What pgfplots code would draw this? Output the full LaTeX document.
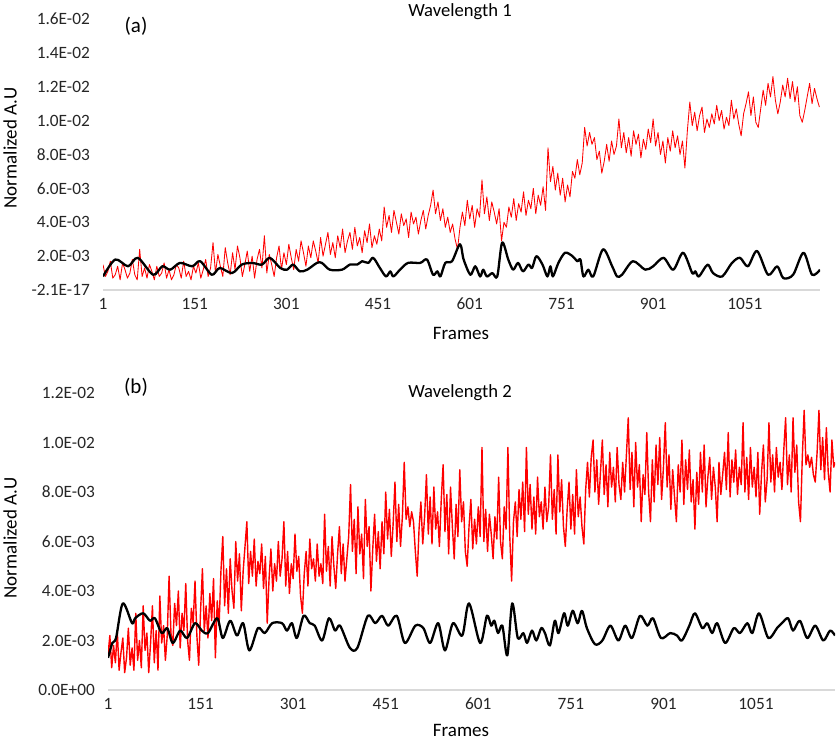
\documentclass[border=0pt]{standalone}
\usepackage{pgfplots}
\pgfplotsset{compat=1.18}
\usepackage{fontspec}
\setmainfont{Carlito}
\begin{document}
\begin{tikzpicture}
\path[use as bounding box] (0pt,0pt) rectangle (840pt,740pt);
\pgfplotsset{
 panel/.style={
  scale only axis,
  axis x line*=bottom, axis y line*=left,
  x axis line style={draw=black!15, line width=1.2pt, -},
  y axis line style={draw=none},
  major tick length=0pt,
  tick style={draw=none},
  xmin=1,
  xtick={1,151,301,451,601,751,901,1051},
  xticklabels={1,151,301,451,601,751,901,1051},
  ticklabel style={font=\fontsize{17.3}{20}\selectfont, text=black!85},
  xticklabel style={inner sep=0pt, anchor=north, yshift=-8pt},
  yticklabel style={inner sep=0pt, anchor=east, xshift=-13pt},
 },
 redtop/.style={color=red, line width=0.85pt, line join=round},
 redbot/.style={color=red, line width=1.4pt, line join=round},
 blk/.style={color=black, line width=2.3pt, smooth, line join=round},
}
% ---------------- Panel (a)
\begin{axis}[panel, at={(103pt,450pt)}, anchor=south west, width=717pt, height=271pt,
  xmax=1174, ymin=0, ymax=16,
  ytick={0,2,4,6,8,10,12,14,16},
  yticklabels={-2.1E-17,2.0E-03,4.0E-03,6.0E-03,8.0E-03,1.0E-02,1.2E-02,1.4E-02,1.6E-02}]
\addplot[redtop] coordinates {
(1,1.5)(5,0.8)(9,1.1)(13,1.7)(17,0.7)(21,0.9)(25,1.4)(29,0.6)(33,1.6)(37,1.2)(41,0.7)(45,1.0)(49,1.8)(53,0.9)(57,0.6)(61,2.4)(65,0.8)(69,1.3)(73,0.7)(77,1.5)(81,1.1)(85,0.6)(89,1.4)(93,0.8)(97,1.0)(101,1.6)(105,0.7)(109,1.2)(113,0.6)(117,0.9)(121,1.5)(125,1.3)(129,0.7)(133,1.7)(137,0.8)(141,1.1)(145,0.6)(149,1.4)(153,1.0)(157,1.6)(161,0.7)(165,1.2)(169,1.8)(173,0.8)(177,1.3)
(181,2.8)(185,1.0)(189,2.1)(193,1.4)(197,0.8)(201,2.5)(205,1.6)(209,0.9)(213,2.2)(217,1.2)(221,2.6)(225,1.9)(229,0.8)(233,1.5)(237,2.3)(241,1.1)(245,2.0)(249,0.7)(253,1.8)(257,2.4)(261,1.3)(265,3.2)(269,1.0)(273,2.1)(277,1.5)(281,0.8)(285,1.9)(289,2.6)(293,1.2)(297,2.2)
(301,1.5)(305,2.7)(309,1.9)(313,1.2)(317,2.4)(321,1.7)(325,2.9)(329,2.2)(333,1.4)(337,2.6)(341,1.9)(345,2.9)(349,2.3)(353,1.6)(357,3.1)(361,2.0)(365,2.7)(369,3.4)(373,2.1)(377,2.8)(381,1.9)(385,3.2)(389,2.5)(393,3.6)(397,2.2)(401,2.9)(405,3.4)(409,2.4)(413,3.7)(417,2.6)(421,3.1)(425,2.2)(429,3.5)(433,2.8)(437,3.9)(441,2.5)(445,3.2)(449,2.7)(453,3.6)(457,2.9)
(461,4.9)(465,3.7)(469,4.4)(473,3.4)(477,4.7)(481,4.0)(485,3.3)(489,4.5)(493,3.8)(497,4.2)(501,3.1)(505,4.6)(509,3.9)(513,4.3)(517,3.3)(521,4.1)(525,4.7)(529,3.6)(533,4.4)(537,5.0)
(541,5.9)(545,4.5)(549,5.2)(553,4.1)(557,4.8)(561,3.7)(565,4.3)(569,3.4)(573,3.9)(577,3.0)(581,2.4)
(585,3.7)(589,4.6)(593,3.8)(597,5.3)(601,4.2)(605,5.0)(609,3.7)(613,4.8)(617,4.3)(621,6.5)(625,4.5)(629,5.5)(633,4.1)(637,5.2)(641,4.6)(645,3.9)(649,4.8)(653,2.9)
(657,4.0)(661,3.7)(665,4.9)(669,4.3)(673,5.4)(677,4.1)(681,5.1)(685,4.6)(689,5.8)(693,4.4)(697,5.3)(701,4.8)(705,6.0)(709,4.5)(713,5.6)(717,5.0)(721,6.1)(725,4.7)
(729,8.4)(733,6.4)(737,7.3)(741,5.9)(745,6.9)(749,5.6)(753,6.6)(757,5.2)(761,6.2)(765,5.5)
(769,7.0)(773,6.6)(777,7.7)(781,6.8)(785,7.5)(789,9.6)(793,8.5)(797,9.3)(801,8.6)(805,9.0)
(809,7.7)(813,8.2)(817,6.9)(821,7.6)(825,8.6)(829,7.6)(833,8.8)(837,8.0)(841,8.5)
(845,10.1)(849,8.4)(853,9.3)(857,8.1)(861,9.0)(865,7.9)(869,9.4)(873,8.6)(877,9.2)(881,7.8)(885,8.9)(889,8.3)(893,9.5)(897,8.7)(901,10.1)(905,8.5)(909,9.3)(913,8.0)(917,8.8)(921,7.5)(925,9.0)(929,8.2)(933,9.4)(937,8.4)(941,9.1)(945,8.0)(949,8.8)
(953,7.2)(957,9.4)(961,11.1)(965,9.7)(969,10.5)(973,9.4)(977,10.3)(981,10.8)(985,9.3)(989,10.1)(993,9.6)(997,10.4)(1001,9.8)(1005,10.9)(1009,10.0)(1013,10.6)(1017,9.5)(1021,10.2)(1025,9.7)(1029,11.2)(1033,10.1)(1037,10.7)(1041,9.8)(1045,9.1)(1049,10.4)(1053,11.0)
(1057,11.7)(1061,10.3)(1065,11.4)(1069,9.9)(1073,9.6)(1077,10.7)(1081,11.8)(1085,10.9)(1089,12.2)(1093,11.4)(1097,12.6)(1101,11.2)(1105,10.4)(1109,11.1)
(1113,12.1)(1117,11.4)(1121,12.5)(1125,11.3)(1129,12.3)(1133,11.1)(1137,12.0)(1141,10.3)(1145,9.9)(1149,10.6)(1153,11.4)(1157,12.2)(1161,11.0)(1165,11.9)(1169,11.3)(1173,10.8)
};
\addplot[blk] coordinates {
(1,0.8)(21,1.8)(42,1.4)(58,1.9)(83,0.9)(98,1.4)(111,1.2)(127,1.6)(147,1.4)(160,1.7)(179,0.9)(192,1.3)(212,1.0)(228,1.5)(245,1.6)(261,1.5)(274,1.9)(291,1.3)(302,1.2)(312,1.5)(323,1.1)(335,1.2)(351,1.6)(359,1.6)(372,1.2)(392,1.2)(405,1.5)(417,1.5)(425,1.7)(435,1.6)(443,1.9)(454,1.3)(464,0.8)(471,1.1)(476,0.8)(487,1.2)(500,1.6)(520,1.6)(531,1.8)(541,0.9)(548,1.1)(553,0.8)(561,1.6)(572,1.7)(585,2.7)(591,1.8)(602,0.9)(610,1.4)(618,0.8)(623,1.2)(629,0.8)(638,1.0)(646,0.8)(654,2.8)(664,1.8)(672,1.2)(680,1.6)(688,1.1)(697,1.5)(703,1.3)(710,2.0)(720,1.5)(728,0.8)(733,1.4)(737,0.8)(746,1.6)(757,2.2)(769,2.0)(777,1.7)(782,1.8)(787,0.8)(795,1.2)(803,0.8)(819,2.4)(834,1.4)(842,0.8)(850,0.9)(868,1.7)(888,1.2)(901,1.4)(918,1.9)(934,1.2)(950,2.2)(965,1.0)(970,1.1)(976,0.8)(990,1.5)(999,1.0)(1014,0.8)(1030,1.6)(1043,1.9)(1056,1.4)(1071,2.3)(1089,0.9)(1104,1.4)(1114,0.7)(1130,0.9)(1147,2.2)(1161,0.9)(1174,1.2)
};
\end{axis}
% ---------------- Panel (b)
\begin{axis}[panel, at={(108pt,50pt)}, anchor=south west, width=727pt, height=297pt,
  xmax=1179, ymin=0, ymax=12,
  ytick={0,2,4,6,8,10,12},
  yticklabels={0.0E+00,2.0E-03,4.0E-03,6.0E-03,8.0E-03,1.0E-02,1.2E-02}]
\addplot[redbot] coordinates {
(1,1.4)(4,2.2)(7,0.9)(10,1.8)(13,1.1)(16,2.4)(19,0.8)(22,1.5)(25,2.1)(28,0.7)(31,1.3)(34,2.5)(37,1.0)(40,1.7)(43,0.8)(46,3.1)(49,1.2)(52,2.0)(55,0.9)(58,3.4)(61,1.6)(64,2.3)(67,0.7)(70,1.9)(73,3.4)(76,1.1)(79,2.4)(82,0.8)(85,3.8)(88,1.9)(91,2.6)(94,1.2)(97,2.2)
(100,4.6)(103,2.3)(106,1.8)(109,3.5)(112,2.6)(115,4.0)(118,1.7)(121,3.1)(124,2.4)(127,4.3)(130,2.0)(133,1.2)(136,3.3)(139,2.7)(142,4.4)(145,2.2)(148,1.0)(151,3.2)(154,4.9)(157,2.4)(160,3.4)(163,2.1)(166,3.9)(169,2.8)(172,4.5)(175,1.3)(178,3.6)(181,2.6)(184,4.8)(187,6.2)(190,3.4)(193,4.9)(196,3.1)(199,5.3)(202,4.0)(205,3.3)(208,6.0)(211,4.4)(214,5.5)(217,3.2)(220,4.8)(223,5.8)(226,6.8)(229,4.3)(232,5.6)(235,4.6)(238,6.1)(241,4.2)(244,5.2)(247,4.7)(250,5.9)(253,4.1)(256,5.4)(259,2.7)(262,4.5)(265,5.7)(268,4.0)(271,5.1)(274,4.4)(277,6.0)(280,4.6)(283,5.3)(286,6.8)
(289,4.2)(292,5.6)(295,3.9)(298,5.1)(301,4.5)(304,6.3)(307,4.8)(310,5.4)(313,3.8)(316,3.1)(319,4.7)(322,5.6)(325,4.2)(328,6.1)(331,4.9)(334,5.3)(337,4.4)(340,5.9)(343,4.6)(346,5.1)(349,4.3)(352,7.1)(355,4.8)(358,5.8)(361,4.2)(364,6.2)(367,5.0)(370,4.1)(373,5.5)(376,6.6)(379,4.7)(382,5.9)(385,4.4)(388,5.3)(391,6.2)(394,8.3)(397,5.6)(400,6.9)(403,4.7)(406,7.4)(409,5.5)(412,6.3)(415,4.5)(418,7.7)(421,5.8)(424,6.6)(427,4.0)(430,5.7)(433,7.1)(436,5.2)(439,6.4)(442,4.9)
(445,6.8)(448,5.5)(451,8.0)(454,6.1)(457,7.3)(460,5.4)(463,6.7)(466,8.4)(469,6.0)(472,7.5)(475,5.8)(478,7.0)(481,9.2)(484,6.9)(487,7.4)(490,6.6)(493,7.2)(496,6.8)(499,5.6)(502,4.6)(505,6.5)(508,7.6)(511,5.9)(514,7.0)(517,8.7)(520,6.3)(523,7.8)(526,5.9)(529,8.2)(532,6.5)(535,7.2)(538,5.8)(541,7.7)(544,9.1)(547,6.4)(550,7.9)(553,5.5)(556,8.2)(559,6.6)(562,5.3)(565,7.5)(568,6.2)(571,8.9)(574,6.8)(577,7.6)(580,5.6)(583,5.0)
(586,6.6)(589,7.7)(592,5.7)(595,6.9)(598,5.9)(601,7.4)(604,6.2)(607,9.8)(610,6.0)(613,7.3)(616,5.6)(619,7.1)(622,6.3)(625,5.3)(628,7.0)(631,6.1)(634,8.6)(637,6.0)(640,5.3)(643,7.4)(646,6.5)(649,9.8)(652,6.2)(655,4.4)(658,6.8)(661,7.6)(664,6.2)(667,8.1)(670,6.9)(673,8.4)(676,6.4)(679,9.8)(682,7.1)(685,8.3)(688,6.5)(691,7.8)(694,6.3)(697,8.6)(700,7.0)(703,7.6)(706,6.5)(709,8.2)(712,6.8)(715,7.4)(718,9.5)(721,6.9)(724,8.1)(727,6.3)(730,9.5)(733,7.2)(736,8.5)(739,6.6)(742,5.8)(745,7.3)(748,8.4)(751,6.5)(754,7.9)(757,6.3)(760,8.9)(763,7.0)(766,7.8)(769,6.6)(772,5.9)(775,8.1)(778,9.2)(781,7.8)(784,9.4)(787,10.1)
(790,8.0)(793,9.3)(796,7.5)(799,8.8)(802,10.1)(805,7.9)(808,9.1)(811,7.4)(814,9.6)(817,8.2)(820,9.0)(823,7.6)(826,9.8)(829,8.3)(832,7.7)(835,9.2)(838,8.0)(841,9.5)(844,11.0)(847,8.1)(850,9.6)(853,7.4)(856,10.0)(859,8.2)(862,9.1)(865,6.8)(868,8.7)(871,7.9)(874,10.4)(877,8.0)(880,6.8)(883,9.3)(886,7.6)(889,9.9)(892,8.3)(895,10.2)(898,7.7)(901,9.0)(904,10.8)(907,8.2)(910,9.5)(913,7.3)(916,8.9)(919,7.8)(922,6.8)(925,9.1)(928,8.0)(931,10.1)(934,7.5)(937,9.3)(940,8.1)(943,9.7)(946,7.6)(949,8.5)(952,6.5)(955,8.8)(958,7.5)(961,9.6)(964,8.0)(967,9.9)(970,7.4)(973,8.6)(976,9.4)(979,7.7)(982,9.0)(985,8.2)(988,6.8)(991,9.2)(994,7.9)(997,8.7)
(1000,9.6)(1003,8.1)(1006,10.4)(1009,7.8)(1012,9.3)(1015,8.4)(1018,9.7)(1021,7.9)(1024,9.0)(1027,8.3)(1030,10.8)(1033,8.0)(1036,9.4)(1039,7.7)(1042,9.8)(1045,8.2)(1048,9.0)(1051,7.8)(1054,9.6)(1057,7.1)(1060,8.8)(1063,9.9)(1066,7.6)(1069,8.5)(1072,10.8)(1075,8.4)(1078,9.5)(1081,8.0)(1084,9.8)(1087,8.6)(1090,9.2)(1093,8.1)(1096,9.7)(1099,11.0)(1102,8.3)(1105,9.5)(1108,8.0)(1111,11.0)(1114,8.8)(1117,9.9)(1120,7.6)(1123,6.8)(1126,9.4)(1129,11.3)(1132,9.1)(1135,9.5)(1138,9.0)(1141,9.4)(1144,8.7)(1147,8.4)(1150,9.6)(1153,11.3)(1156,8.9)(1159,10.2)(1162,8.5)(1165,10.6)(1168,8.8)(1171,8.0)(1174,10.1)(1177,9.0)(1179,9.2)
};
\addplot[blk] coordinates {
(1,1.3)(8,1.9)(14,2.1)(25,3.5)(40,2.7)(45,2.9)(58,3.1)(69,2.8)(77,2.9)(88,2.3)(97,2.5)(106,1.9)(118,2.4)(129,2.1)(142,2.7)(153,2.4)(163,2.3)(178,2.9)(187,2.1)(199,2.8)(210,2.2)(220,2.7)(230,1.6)(244,2.5)(255,2.3)(267,2.7)(283,2.7)(291,2.4)(299,2.7)(307,2.1)(318,3.0)(328,2.7)(336,2.6)(348,2.0)(359,2.9)(369,2.4)(377,2.6)(393,1.7)(405,1.7)(422,3.0)(434,2.7)(445,3.0)(455,2.6)(469,3.0)(482,1.9)(499,2.6)(512,2.5)(523,1.9)(536,2.7)(547,1.6)(560,2.7)(575,2.2)(586,3.5)(604,1.9)(615,3.0)(622,2.6)(627,2.8)(633,2.3)(640,2.6)(648,1.4)(656,3.5)(665,2.1)(674,2.3)(680,1.9)(688,2.4)(695,2.0)(703,2.5)(709,2.3)(717,1.8)(725,2.8)(731,2.3)(740,3.1)(746,2.6)(754,3.2)(762,2.7)(769,3.2)(777,2.5)(790,1.85)(802,2.0)(815,2.6)(828,2.0)(839,2.6)(850,2.1)(863,3.0)(875,2.6)(884,2.9)(897,2.1)(912,2.3)(923,2.2)(931,2.0)(943,2.6)(952,3.1)(964,2.5)(972,2.7)(980,2.3)(988,2.7)(1001,1.9)(1015,2.5)(1025,2.3)(1037,2.7)(1045,2.3)(1056,3.1)(1071,2.1)(1085,2.5)(1093,2.7)(1103,2.9)(1111,2.4)(1122,2.8)(1134,2.1)(1147,2.6)(1160,2.0)(1171,2.4)(1179,2.2)
};
\end{axis}
% ---------------- Texts
\node[font=\fontsize{18.6}{22}\selectfont, anchor=base] at (460pt,723pt) {Wavelength 1};
\node[font=\fontsize{18.6}{22}\selectfont, anchor=base] at (460pt,343pt) {Wavelength 2};
\node[font=\fontsize{21}{24}\selectfont] at (136pt,714pt) {(a)};
\node[font=\fontsize{21}{24}\selectfont] at (136pt,353pt) {(b)};
\node[font=\fontsize{19}{22}\selectfont] at (461pt,407pt) {Frames};
\node[font=\fontsize{19}{22}\selectfont] at (461pt,10pt) {Frames};
\node[font=\fontsize{19}{22}\selectfont, rotate=90] at (10pt,592pt) {Normalized A.U};
\node[font=\fontsize{19}{22}\selectfont, rotate=90] at (10pt,202pt) {Normalized A.U};
\end{tikzpicture}
\end{document}
